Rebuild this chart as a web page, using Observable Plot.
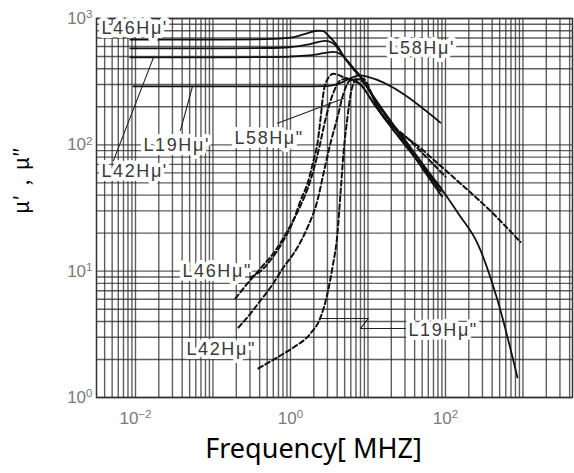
<!DOCTYPE html>
<html><head><meta charset="utf-8">
<script src="https://cdn.jsdelivr.net/npm/d3@7"></script>
<script src="https://cdn.jsdelivr.net/npm/@observablehq/plot@0.6"></script>
<style>body{margin:0;background:#fff} #chart{width:574px;height:473px}</style>
</head><body><div id="chart"></div>
<script>
// ---- ticks, tick labels (base + exponent) & axis titles ----
const xTicks = [0.01, 1, 100];
const xTickExp = ["-2", "0", "2"];
const yTicks = [1, 10, 100, 1000];
const yTickExp = ["0", "1", "2", "3"];
const tickBase = "10";
const xTitle = "Frequency[ MHZ]";
const yTitle = "μ′\u00a0\u00a0,\u00a0\u00a0μ″";

// ---- μ' (solid) series: [MHz, μ] ----
const L46_real = [[0.0086,680],[0.1,680],[0.5,686],[1,705],[1.6,760],[2.2,800],[2.6,798],[3.1,730],[4,610],[5.1,480],[6.5,395],[8,345],[12,235],[20,150],[32,100],[55,62],[86,43]];
const L58_real = [[0.0086,580],[0.1,580],[0.5,584],[1,595],[1.8,628],[2.8,665],[3.5,640],[5.1,480],[6.5,400],[8,345],[12,232],[20,148],[32,98],[55,60],[90,39]];
const L42_real = [[0.0086,492],[0.1,492],[0.5,495],[1,500],[2,515],[3.6,545],[4.5,520],[6,430],[8,350],[12,238],[20,152],[32,104],[55,66],[86,46],[150,28],[259,16.6],[469,5.9],[849,1.44]];
const L19_real = [[0.0094,290],[0.1,290],[1,290],[3,292],[4.5,310],[6,338],[8,355],[10,345],[86,150]];

// ---- μ'' (dashed) series ----
const L46_imag = [[0.305,8.92],[0.449,10.5],[0.552,12.2],[0.812,17.5],[1.093,25.2],[1.35,36.3],[1.66,49.5],[1.98,75],[2.23,103],[2.44,160],[2.62,240],[2.85,310],[3.6,365],[5,340],[8,300],[12,210],[30,100],[86,46]];
const L58_imag = [[0.195,6.08],[0.279,8.0],[0.41,10.5],[0.64,14.6],[1,23],[1.35,33.1],[1.81,52.2],[2.3,90],[2.91,171],[3.59,260],[4.42,324],[5.5,335],[8,300],[12,210],[30,100],[90,44]];
const L42_imag = [[0.213,3.58],[0.305,4.62],[0.41,5.86],[0.552,7.43],[0.812,10.7],[1.23,15.4],[1.66,22.2],[2.23,36.3],[2.67,59.4],[3.28,103],[4.04,165],[4.83,255],[5.94,324],[7.5,330],[10,280],[14,190],[35,108],[100,56]];
const L19_imag = [[0.386,1.70],[0.743,2.15],[1.093,2.49],[1.81,3.21],[2.44,4.30],[3.0,6.66],[3.48,10.7],[4.04,19.9],[4.42,41.2],[4.83,85.5],[5.44,165],[5.94,246],[6.9,324],[8.5,335],[13.3,197],[52,90],[142,52],[380,30],[929,17]];

// ---- annotation labels ----
const labelText = ["L46Hμ'", "L19Hμ'", "L42Hμ'", "L58Hμ\"", "L58Hμ'", "L46Hμ\"", "L42Hμ\"", "L19Hμ\""];
const labelX = [0.00364, 0.01268, 0.00364, 0.189, 18.4, 0.0404, 0.0455, 33.3];
const labelY = [835, 98.9, 61.5, 112, 580, 9.95, 2.40, 3.39];

// leader lines
const leaderL42 = [[0.0052,75],[0.0171,492]];
const leaderL19 = [[0.0381,130],[0.0544,290]];
const leaderL58i = [[0.68,148],[4.83,233]];
const leaderL19i = [[2.44,4.22],[10.1,4.22],[8,3.52],[32.3,3.52]];

// ---- build tables ----
const toRows = (name, pts) => pts.map(([f, mu]) => ({name, f, mu}));
const realRows = [
  ...toRows("L46", L46_real), ...toRows("L58", L58_real),
  ...toRows("L42", L42_real), ...toRows("L19", L19_real)];
const imagRows = [
  ...toRows("L46", L46_imag), ...toRows("L58", L58_imag),
  ...toRows("L42", L42_imag), ...toRows("L19", L19_imag)];
const leaderRows = [
  ...toRows("a", leaderL42), ...toRows("b", leaderL19),
  ...toRows("c", leaderL58i), ...toRows("d", leaderL19i)];
const labels = labelText.map((t, i) => ({t, x: labelX[i], y: labelY[i]}));

const xDomain = [10 ** -2.503, 10 ** 3.639];
const yDomain = [1, 1000];
const logGrid = (lo, hi) => d3.range(-4, 5).flatMap(e => d3.range(1, 10).map(k => k * 10 ** e)).filter(v => v >= lo * 0.999 && v <= hi * 1.001);
const gridX = logGrid(...xDomain);
const gridY = logGrid(...yDomain);

const xFmt = new Map(xTicks.map((t, i) => [t, tickBase + "^" + xTickExp[i]]));
const yFmt = new Map(yTicks.map((t, i) => [t, tickBase + "^" + yTickExp[i]]));

const chart = Plot.plot({
  width: 574, height: 473,
  marginLeft: 96, marginRight: 2, marginTop: 18, marginBottom: 76,
  style: {fontFamily: "'Liberation Sans', Arial, sans-serif", background: "#fff", overflow: "visible"},
  x: {type: "log", domain: xDomain},
  y: {type: "log", domain: yDomain},
  marks: [
    Plot.ruleX(gridX, {stroke: "#2a2a2a", strokeOpacity: 0.75, strokeWidth: 1.4}),
    Plot.ruleY(gridY, {stroke: "#2a2a2a", strokeOpacity: 0.75, strokeWidth: 1.4}),
    Plot.frame({stroke: "#333", strokeWidth: 1.5}),
    Plot.axisX({ticks: xTicks, tickFormat: d => xFmt.get(d), tickSize: 0, tickPadding: 14, fontSize: 17, color: "#7a7a7a", label: null, className: "tk"}),
    Plot.axisY({ticks: yTicks, tickFormat: d => yFmt.get(d), tickSize: 0, tickPadding: 4, fontSize: 17, color: "#7a7a7a", label: null, className: "tk"}),
    Plot.line(realRows, {x: "f", y: "mu", z: "name", stroke: "#111", strokeWidth: 1.8, curve: "monotone-x"}),
    Plot.line(imagRows, {x: "f", y: "mu", z: "name", stroke: "#111", strokeWidth: 2, strokeDasharray: "5,3", curve: "monotone-x"}),
    Plot.line(leaderRows, {x: "f", y: "mu", z: "name", stroke: "#222", strokeWidth: 1.1}),
    Plot.text(labels, {x: "x", y: "y", text: "t", textAnchor: "start", fontSize: 18, fill: "#3a3a3a", stroke: "white", strokeWidth: 8, className: "ann"}),
    Plot.text([xTitle], {frameAnchor: "bottom", dy: 60, dx: -21, fontSize: 27, fill: "#000", fontFamily: "'Noto Sans', sans-serif"}),
    Plot.text([yTitle], {frameAnchor: "left", dx: -74, dy: 6, rotate: -90, fontSize: 21, fill: "#000", fontFamily: "'Noto Sans CJK JP', serif"})
  ]
});
d3.select(chart).selectAll(".ann text").style("letter-spacing", "1.6px");
// render "10^e" tick labels as base + raised exponent
d3.select(chart).selectAll(".tk text").each(function () {
  const s = this.textContent;
  if (!s.includes("^")) return;
  const [b, e] = s.split("^");
  const t = d3.select(this);
  t.text(null);
  t.append("tspan").text(b);
  t.append("tspan").attr("dy", "-0.5em").attr("font-size", "0.68em").text(e.replace("-", "−"));
});
document.getElementById("chart").appendChild(chart);
</script>
</body></html>
